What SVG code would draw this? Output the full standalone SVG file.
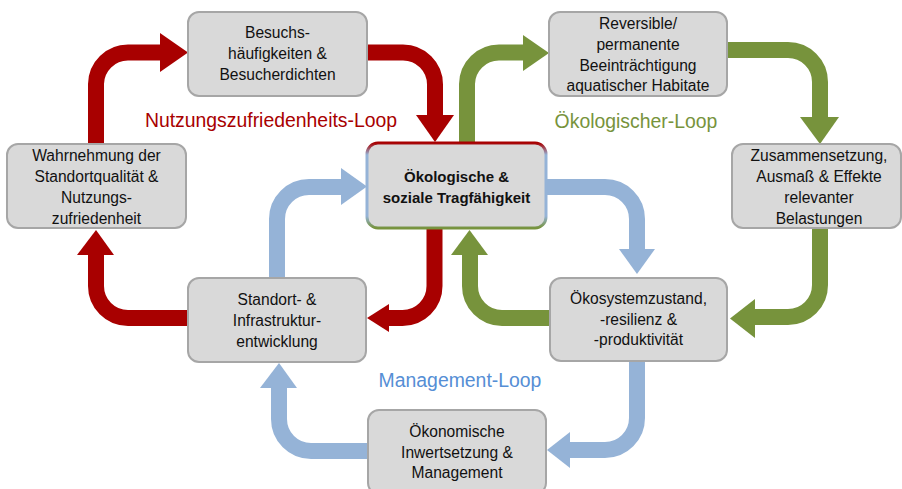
<svg xmlns="http://www.w3.org/2000/svg" width="902" height="489" viewBox="0 0 902 489">
  <defs>
    <linearGradient id="centerStroke" x1="0" y1="0" x2="0" y2="1">
      <stop offset="0" stop-color="#a80000"/>
      <stop offset="0.14" stop-color="#95b3d7"/>
      <stop offset="0.86" stop-color="#95b3d7"/>
      <stop offset="1" stop-color="#77933c"/>
    </linearGradient>
  </defs>
  <style>
    .box { fill: #d9d9d9; stroke: #a6a6a6; stroke-width: 2; }
    .lbl { font-family: "Liberation Sans", Arial, sans-serif; font-size: 15.6px; fill: #111; text-anchor: middle; }
    .bold { font-weight: bold; font-size: 15px; }
    .loop { font-family: "Liberation Sans", Arial, sans-serif; font-size: 19.4px; text-anchor: middle; }
    .shaft { fill: none; stroke-width: 16; }
    .red { stroke: #a80000; }
    .green { stroke: #77933c; }
    .blue { stroke: #95b3d7; }
    .hred { fill: #a80000; }
    .hgreen { fill: #77933c; }
    .hblue { fill: #95b3d7; }
  </style>

  <rect width="902" height="489" fill="#ffffff"/>

  <!-- connectors: three feedback loops -->
  <g id="connectors">
    <!-- red loop -->
    <path class="shaft red" d="M96,144 V84 A32,32 0 0 1 128,52.5 H162"/>
    <polygon class="hred" points="160,33 188,52.5 160,72"/>
    <path class="shaft red" d="M367,52.5 H403 A32,32 0 0 1 435,84.5 V117"/>
    <polygon class="hred" points="416,115 454,115 435,142"/>
    <path class="shaft red" d="M434.5,229 V286 A32,32 0 0 1 402.5,318 H388"/>
    <polygon class="hred" points="389,304 367,318 389,332"/>
    <path class="shaft red" d="M188,318 H128 A32,32 0 0 1 96,286 V254"/>
    <polygon class="hred" points="77,255 96,230 114,255"/>

    <!-- green loop -->
    <path class="shaft green" d="M467,143 V84 A32,32 0 0 1 499,52.5 H525"/>
    <polygon class="hgreen" points="523,35 549,53 523,71"/>
    <path class="shaft green" d="M727,50 H788 A32,32 0 0 1 820,82 V119"/>
    <polygon class="hgreen" points="800,117 820,144 839,117"/>
    <path class="shaft green" d="M820,228 V285 A32,32 0 0 1 788,317 H754"/>
    <polygon class="hgreen" points="755,299 730,318.5 755,338"/>
    <path class="shaft green" d="M550,318 H502 A32,32 0 0 1 470,286 V254"/>
    <polygon class="hgreen" points="451,255 469.5,230 488,255"/>

    <!-- blue loop -->
    <path class="shaft blue" d="M277,278 V219 A32,32 0 0 1 309,187 H343"/>
    <polygon class="hblue" points="341,168 367,186.5 341,205"/>
    <path class="shaft blue" d="M546,187 H605 A32,32 0 0 1 637,219 V251"/>
    <polygon class="hblue" points="619,249 637,274 655,249"/>
    <path class="shaft blue" d="M637,361 V418 A32,32 0 0 1 605,450 H569"/>
    <polygon class="hblue" points="570,432 547,450 570,468"/>
    <path class="shaft blue" d="M368,451 H311 A32,32 0 0 1 279,419 V387"/>
    <polygon class="hblue" points="260,388 279,363 297,388"/>
  </g>

  <!-- loop titles -->
  <text class="loop" x="271" y="127" fill="#a80000">Nutzungszufriedenheits-Loop</text>
  <text class="loop" x="636" y="128" fill="#77933c">Ökologischer-Loop</text>
  <text class="loop" x="460" y="387" fill="#558ed5">Management-Loop</text>

  <!-- nodes -->
  <g id="besuch">
    <rect class="box" x="188" y="12" width="179" height="84" rx="11"/>
    <text class="lbl" x="277.5" y="38">Besuchs-</text>
    <text class="lbl" x="277.5" y="59">häufigkeiten &amp;</text>
    <text class="lbl" x="277.5" y="80">Besucherdichten</text>
  </g>

  <g id="habitate">
    <rect class="box" x="549" y="12" width="178" height="84" rx="11"/>
    <text class="lbl" x="638" y="29">Reversible/</text>
    <text class="lbl" x="638" y="50">permanente</text>
    <text class="lbl" x="638" y="71">Beeinträchtigung</text>
    <text class="lbl" x="638" y="91">aquatischer Habitate</text>
  </g>

  <g id="wahrnehmung">
    <rect class="box" x="7" y="144" width="179" height="84" rx="11"/>
    <text class="lbl" x="96.5" y="161">Wahrnehmung der</text>
    <text class="lbl" x="96.5" y="182">Standortqualität &amp;</text>
    <text class="lbl" x="96.5" y="203">Nutzungs-</text>
    <text class="lbl" x="96.5" y="224">zufriedenheit</text>
  </g>

  <g id="belastungen">
    <rect class="box" x="732" y="144" width="169" height="84" rx="11"/>
    <text class="lbl" x="819" y="161">Zusammensetzung,</text>
    <text class="lbl" x="819" y="182">Ausmaß &amp; Effekte</text>
    <text class="lbl" x="819" y="203">relevanter</text>
    <text class="lbl" x="819" y="224">Belastungen</text>
  </g>

  <g id="tragfaehigkeit">
    <rect x="367" y="143" width="179" height="85" rx="11" fill="#d9d9d9" stroke="url(#centerStroke)" stroke-width="3"/>
    <text class="lbl bold" x="456.5" y="182">Ökologische &amp;</text>
    <text class="lbl bold" x="456.5" y="203">soziale Tragfähigkeit</text>
  </g>

  <g id="standort">
    <rect class="box" x="188" y="278" width="178" height="84" rx="11"/>
    <text class="lbl" x="277" y="305">Standort- &amp;</text>
    <text class="lbl" x="277" y="326">Infrastruktur-</text>
    <text class="lbl" x="277" y="347">entwicklung</text>
  </g>

  <g id="oekosystem">
    <rect class="box" x="550" y="278" width="177" height="83" rx="11"/>
    <text class="lbl" x="638.5" y="304">Ökosystemzustand,</text>
    <text class="lbl" x="638.5" y="325">-resilienz &amp;</text>
    <text class="lbl" x="638.5" y="345">-produktivität</text>
  </g>

  <g id="management">
    <rect class="box" x="368" y="410" width="178" height="84" rx="11"/>
    <text class="lbl" x="457" y="437">Ökonomische</text>
    <text class="lbl" x="457" y="458">Inwertsetzung &amp;</text>
    <text class="lbl" x="457" y="478">Management</text>
  </g>
</svg>
